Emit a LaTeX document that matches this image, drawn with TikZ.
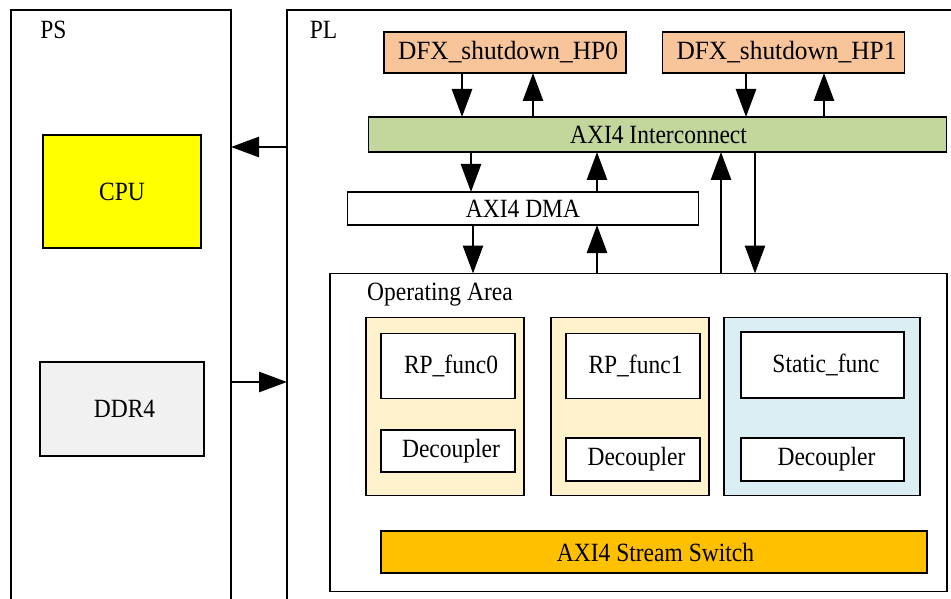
\documentclass[tikz,border=0pt]{standalone}
\usepackage{fontspec}
\setmainfont{Liberation Serif}
\usetikzlibrary{arrows.meta}
\definecolor{cpuY}{HTML}{FFFF00}
\definecolor{ddrG}{HTML}{F1F1F1}
\definecolor{dfxP}{HTML}{F8C49A}
\definecolor{icG}{HTML}{C3D69B}
\definecolor{rpC}{HTML}{FFF2CC}
\definecolor{stB}{HTML}{DAEEF3}
\definecolor{swA}{HTML}{FFC000}
\newcommand{\tx}[1]{\scalebox{1.0}[1.12]{#1}}
\newcommand{\txw}[1]{\scalebox{1.08}[1.12]{#1}}
\tikzset{
  blk/.style={draw=black, line width=1.9pt, inner sep=0pt, outer sep=0pt, font=\fontsize{23.5}{26}\selectfont},
  conn/.style={line width=2.8pt, -{Triangle[length=28pt,width=20pt]}},
  lbl/.style={inner sep=0pt, font=\fontsize{23.5}{26}\selectfont},
}
\begin{document}
\begin{tikzpicture}[x=1pt,y=1pt]
\useasboundingbox (0,0) rectangle (951,-599);
% PS and PL outer boxes (open at bottom / right)
\draw[line width=1.9pt] (11,-620) -- (11,-10) -- (231,-10) -- (231,-620);
\draw[line width=1.9pt] (287,-620) -- (287,-10) -- (970,-10);
\node[lbl] (ps) at (53.5,-30) {\tx{PS}};
\node[lbl] (pl) at (323.5,-30) {\tx{PL}};
% PS contents
\node[blk, fill=cpuY, minimum width=158pt, minimum height=113pt] (cpu) at (122,-191.5) {\tx{CPU}};
\node[blk, fill=ddrG, minimum width=164pt, minimum height=94pt] (ddr) at (122,-409) {\hspace*{5pt}\tx{DDR4}};
% PL top blocks
\node[blk, fill=dfxP, minimum width=242pt, minimum height=41pt] (dfx0) at (505,-52.5) {\hspace*{6pt}\txw{DFX\_shutdown\_HP0}};
\node[blk, fill=dfxP, minimum width=242pt, minimum height=41pt] (dfx1) at (783.5,-52.5) {\hspace*{6pt}\txw{DFX\_shutdown\_HP1}};
\node[blk, fill=icG, minimum width=578pt, minimum height=35pt] (ic) at (657.5,-134.5) {\hspace*{2pt}\tx{AXI4 Interconnect}};
\node[blk, fill=white, minimum width=351pt, minimum height=33pt] (dma) at (523,-208.5) {\tx{AXI4 DMA}};
% Operating area
\node[blk, fill=white, minimum width=617pt, minimum height=318pt] (oa) at (638.5,-432.5) {};
\node[lbl, anchor=west] (oal) at (367,-295) {\tx{Operating Area}};
% containers
\node[blk, fill=rpC, minimum width=158pt, minimum height=178pt] (rp0) at (445,-406.5) {};
\node[blk, fill=rpC, minimum width=158pt, minimum height=178pt] (rp1) at (630,-406.5) {};
\node[blk, fill=stB, minimum width=196pt, minimum height=178pt] (st) at (822,-406.5) {};
% inner boxes
\node[blk, fill=white, minimum width=134pt, minimum height=65pt] (f0) at (448,-366) {\hspace*{6pt}\tx{RP\_func0}};
\node[blk, fill=white, minimum width=134pt, minimum height=42pt] (d0) at (448,-451) {\hspace*{6pt}\tx{Decoupler}};
\node[blk, fill=white, minimum width=134pt, minimum height=65pt] (f1) at (633,-366) {\hspace*{5pt}\tx{RP\_func1}};
\node[blk, fill=white, minimum width=134pt, minimum height=43pt] (d1) at (633,-459.5) {\hspace*{7pt}\tx{Decoupler}};
\node[blk, fill=white, minimum width=163pt, minimum height=66pt] (sf) at (822.5,-365) {\hspace*{7pt}\tx{Static\_func}};
\node[blk, fill=white, minimum width=163pt, minimum height=43pt] (d2) at (822.5,-459.5) {\hspace*{8pt}\tx{Decoupler}};
\node[blk, fill=swA, minimum width=546pt, minimum height=42pt] (sw) at (654,-552) {\hspace*{3pt}\tx{AXI4 Stream Switch}};
% connectors PS <-> PL
\coordinate (plA) at (287,-147);
\coordinate (psA) at (231,-147);
\coordinate (psB) at (231,-382);
\coordinate (plB) at (287,-382);
\draw[conn] (plA) -- (psA);
\draw[conn] (psB) -- (plB);
% DFX <-> interconnect
\draw[conn] (dfx0.south -| 462,0) -- (ic.north -| 462,0);
\draw[conn] (ic.north -| 533,0) -- (dfx0.south -| 533,0);
\draw[conn] (dfx1.south -| 746,0) -- (ic.north -| 746,0);
\draw[conn] (ic.north -| 824,0) -- (dfx1.south -| 824,0);
% interconnect <-> DMA
\draw[conn] (ic.south -| 471,0) -- (dma.north -| 471,0);
\draw[conn] (dma.north -| 597,0) -- (ic.south -| 597,0);
% DMA <-> OA
\draw[conn] (dma.south -| 473,0) -- (oa.north -| 473,0);
\draw[conn] (oa.north -| 597,0) -- (dma.south -| 597,0);
% OA <-> interconnect
\draw[conn] (oa.north -| 721,0) -- (ic.south -| 721,0);
\draw[conn] (ic.south -| 755,0) -- (oa.north -| 755,0);
\end{tikzpicture}
\end{document}
